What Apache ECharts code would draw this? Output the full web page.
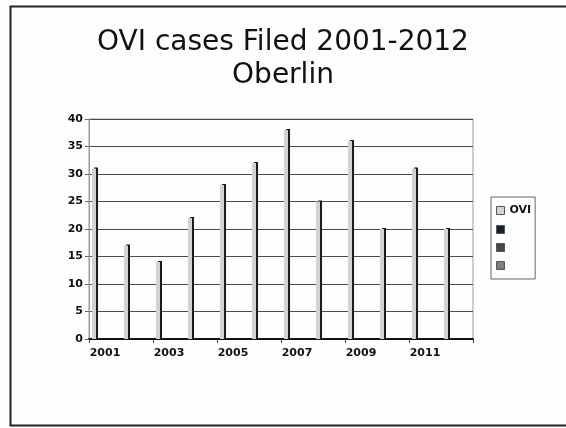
<!DOCTYPE html>
<html>
<head>
<meta charset="utf-8">
<script src="https://cdn.jsdelivr.net/npm/echarts@6/dist/echarts.min.js"></script>
<style>
html,body{margin:0;padding:0;background:#fcfdfd;}
#c{width:566px;height:428px;}
</style>
</head>
<body>
<div id="c"></div>
<script>
var years = ['2001','2002','2003','2004','2005','2006','2007','2008','2009','2010','2011','2012'];
var oviCases = [31, 17, 14, 22, 28, 32, 38, 25, 36, 20, 31, 20];
var seriesNames = ['OVI', 's2', 's3', 's4'];
var yTicks = {min: 0, max: 40, interval: 5};

var chart = echarts.init(document.getElementById('c'));
var emptySeries = function (name, color) {
  return {
    name: name, type: 'bar', data: years.map(function(){ return null; }),
    itemStyle: {color: color, borderColor: '#444', borderWidth: 1},
    barWidth: 4, barGap: '83%'
  };
};
chart.setOption({
  backgroundColor: '#fcfdfd',
  animation: false,
  title: {
    text: 'OVI cases Filed 2001-2012\nOberlin',
    left: 'center', top: 21,
    textStyle: {fontFamily: 'DejaVu Sans', fontWeight: 'normal', fontSize: 28, color: '#111', lineHeight: 33}
  },
  graphic: [{
    type: 'rect', left: 8, top: 4,
    shape: {width: 620, height: 419},
    style: {fill: 'none', stroke: '#222', lineWidth: 2}
  }],
  legend: {
    orient: 'vertical', left: 491, top: 197,
    data: seriesNames,
    formatter: function (n) { return n === 'OVI' ? 'OVI' : ''; },
    itemWidth: 8, itemHeight: 8, itemGap: 9,
    icon: 'rect',
    itemStyle: {borderColor: '#555', borderWidth: 1},
    padding: [8, 4, 9, 5],
    borderColor: '#666', borderWidth: 1,
    textStyle: {fontFamily: 'DejaVu Sans', fontWeight: 'bold', fontSize: 11, color: '#111', lineHeight: 10}
  },
  grid: {left: 89, right: 93, top: 119, bottom: 89, show: true, borderColor: '#9a9a9a', borderWidth: 1},
  xAxis: {
    type: 'category', data: years,
    axisLine: {lineStyle: {color: '#111', width: 2}},
    axisTick: {show: true, inside: false, length: 4, lineStyle: {color: '#444'}},
    axisLabel: {interval: 1, fontFamily: 'DejaVu Sans', fontWeight: 'bold', fontSize: 11, color: '#111', margin: 9}
  },
  yAxis: {
    type: 'value', min: yTicks.min, max: yTicks.max, interval: yTicks.interval,
    axisLine: {show: true, lineStyle: {color: '#999', width: 1}},
    axisTick: {show: true, length: 4, lineStyle: {color: '#666'}},
    splitLine: {lineStyle: {color: '#4a4a4a', width: 1}},
    axisLabel: {fontFamily: 'DejaVu Sans', fontWeight: 'bold', fontSize: 11, color: '#111', margin: 6}
  },
  series: [
    {
      name: 'OVI', type: 'bar', data: oviCases,
      barWidth: 4, barGap: '83%',
      itemStyle: {color: '#d2d2d2', borderWidth: 0,
        shadowColor: '#1a1a1a', shadowOffsetX: 2, shadowOffsetY: -1, shadowBlur: 0}
    },
    emptySeries('s2', '#1b1d33'),
    emptySeries('s3', '#45474f'),
    emptySeries('s4', '#7a7c82')
  ]
});
</script>
</body>
</html>
